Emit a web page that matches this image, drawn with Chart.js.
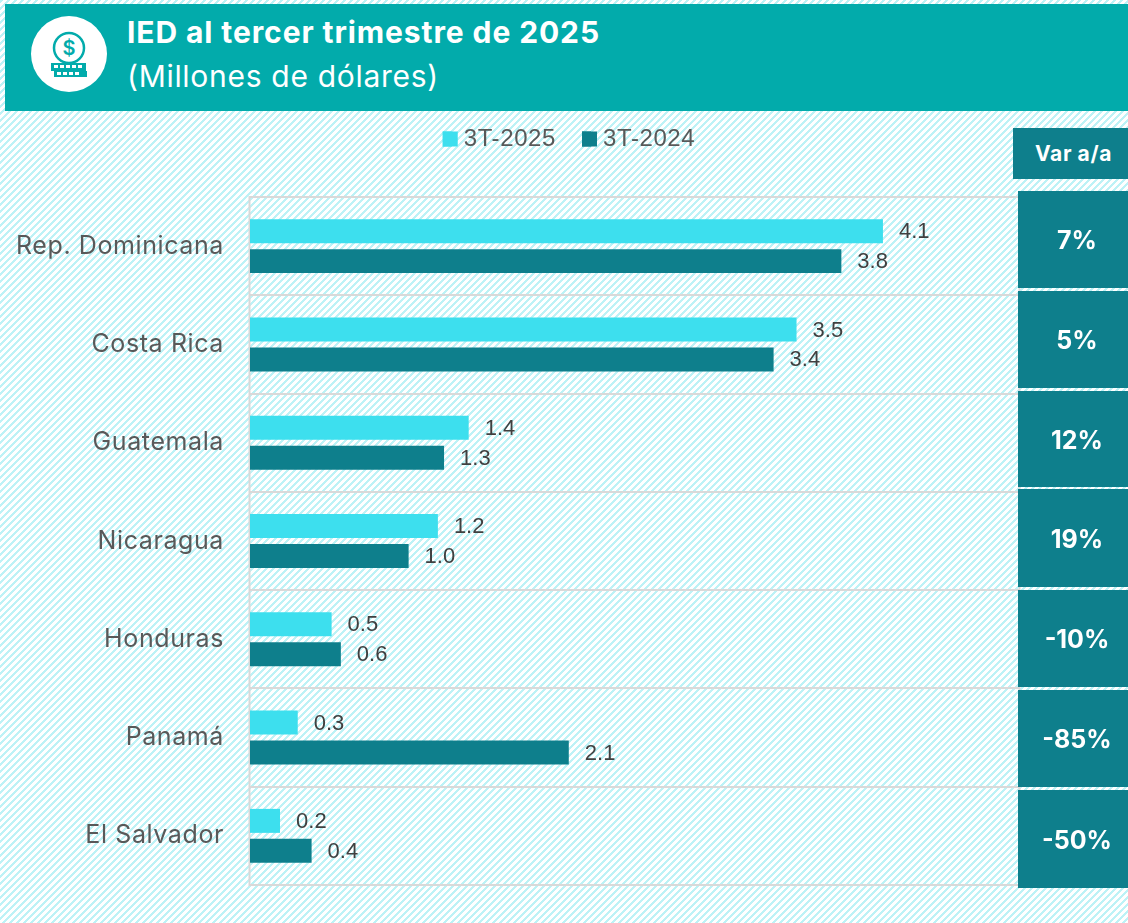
<!DOCTYPE html>
<html><head><meta charset="utf-8">
<style>
html,body{margin:0;padding:0;width:1128px;height:923px;overflow:hidden;font-family:Inter,sans-serif;background:#fff}
#bg{position:absolute;left:0;top:0;width:1128px;height:923px;background:repeating-linear-gradient(135deg,#bdf2f6 0,#bdf2f6 2.15px,#fff 2.15px,#fff 4.95px)}
#hdr{position:absolute;left:5px;top:4px;width:1123px;height:107px;background:#02abab}
#t1{position:absolute;left:127px;top:10px;color:#fff;font-weight:700;font-size:30px;line-height:44px;white-space:nowrap;letter-spacing:.9px}
#t2{position:absolute;left:127px;top:54px;color:#fff;font-size:30px;line-height:44px;white-space:nowrap;letter-spacing:.7px}
#icon{position:absolute;left:31px;top:16px}
canvas{position:absolute;left:0;top:0}
.h{position:absolute;left:1013px;top:128px;width:115px;height:51px;background:#0e7f8c;color:#fff;font-weight:700;font-size:21px;line-height:51px;text-align:center;letter-spacing:.6px;text-indent:6px}
.c{position:absolute;left:1018px;width:110px;background:#0e7f8c;color:#fff;font-weight:700;font-size:25px;text-align:center;text-indent:8px}
</style></head><body>
<div id="bg"></div>
<div id="hdr"></div>
<svg id="icon" width="76" height="76" viewBox="0 0 76 76">
<circle cx="38" cy="38" r="38" fill="#fff"/>
<circle cx="38" cy="32" r="15" fill="none" stroke="#02abab" stroke-width="2.5"/>
<text x="38" y="39" text-anchor="middle" font-family="Inter" font-weight="600" font-size="20" fill="#02abab">$</text>
<rect x="20" y="47" width="35" height="8" fill="#02abab"/>
<rect x="23" y="55" width="33" height="6" fill="#02abab"/>
<g fill="#fff"><rect x="23" y="49" width="4" height="3"/><rect x="29" y="49" width="4" height="3"/><rect x="35" y="49" width="4" height="3"/><rect x="41" y="49" width="4" height="3"/><rect x="47" y="49" width="4" height="3"/><rect x="26" y="56" width="4" height="3"/><rect x="32" y="56" width="4" height="3"/><rect x="38" y="56" width="4" height="3"/><rect x="44" y="56" width="4" height="3"/></g>
</svg>
<div id="t1">IED al tercer trimestre de 2025</div>
<div id="t2">(Millones de dólares)</div>
<canvas id="c" width="1128" height="923"></canvas>
<div class="h">Var a/a</div>
<div id="cells"></div>
<script src="https://cdn.jsdelivr.net/npm/chart.js@4"></script>
<script>
const categories=["Rep. Dominicana","Costa Rica","Guatemala","Nicaragua","Honduras","Panamá","El Salvador"];
const s2025=[4.11,3.549,1.42,1.22,0.53,0.31,0.195];
const s2024=[3.84,3.40,1.26,1.03,0.59,2.07,0.40];
const variation=["7%","5%","12%","19%","-10%","-85%","-50%"];
const cellTops=[191,291,391,489,590,690,790];
const cellBottoms=[288,388,487,587,687,787,888];
const cells=document.getElementById('cells');
variation.forEach((v,i)=>{const d=document.createElement('div');d.className='c';d.textContent=v;
 const h=cellBottoms[i]-cellTops[i];d.style.top=cellTops[i]+'px';d.style.height=h+'px';d.style.lineHeight=(h+2)+'px';cells.appendChild(d);});
const labelPlugin={id:'vals',afterDatasetsDraw(ch){const x=ch.ctx;x.save();x.letterSpacing='0px';x.font='22px "Liberation Sans"';x.fillStyle='#404040';x.textBaseline='middle';
 ch.data.datasets.forEach((d,i)=>{ch.getDatasetMeta(i).data.forEach((b,j)=>{x.fillText(d.data[j].toFixed(1),b.x+16,b.y+1);});});x.restore();}};
const framePlugin={id:'frame',beforeDatasetsDraw(ch){const a=ch.chartArea,x=ch.ctx;x.save();x.strokeStyle='#d9d9d9';x.lineWidth=2;x.strokeRect(a.left-0.5,a.top,a.right-a.left,a.bottom-a.top);x.restore();}};
const legendPlugin={id:'legendPos',
 beforeUpdate(ch){ch.ctx.letterSpacing='0.6px';if(ch.legend&&!ch.legend._w){ch.legend._w=1;const f=ch.legend.fit;ch.legend.fit=function(){f.call(this);this.height=96;};}},
 beforeDraw(ch){ch.ctx.letterSpacing='0.6px';},
 afterLayout(ch){ch.legend.left+=59;ch.legend.right+=59;},
 afterDraw(ch){const x=ch.ctx;x.save();ch.legend.legendHitBoxes.forEach((h,i)=>{x.fillStyle=ch.data.datasets[i].backgroundColor;x.fillRect(h.left,h.top+h.height/2-7.5,15,15);});x.restore();}};
new Chart(document.getElementById('c'),{type:'bar',
 data:{labels:categories,datasets:[
  {label:'3T-2025',data:s2025,backgroundColor:'#3ddfee',categoryPercentage:0.61,barPercentage:0.8},
  {label:'3T-2024',data:s2024,backgroundColor:'#0e7f8c',categoryPercentage:0.61,barPercentage:0.8}]},
 plugins:[legendPlugin,labelPlugin,framePlugin],
 options:{indexAxis:'y',responsive:false,animation:false,
  layout:{padding:{left:0,right:108,top:101,bottom:38}},
  plugins:{legend:{display:true,position:'top',align:'center',labels:{color:'#595959',font:{family:'Liberation Sans',size:24},boxWidth:9,boxHeight:15,padding:26}},tooltip:{enabled:false}},
  scales:{
   x:{min:0,max:5,display:false,grid:{display:false}},
   y:{afterFit(s){s.width=250;s.paddingTop=0;s.paddingBottom=0;},grid:{display:true,color:'#d9d9d9',lineWidth:2,drawTicks:false,offset:true},border:{display:false},
      ticks:{color:'#595959',font:{family:'Inter',size:25},padding:26,autoSkip:false}}
  }}});
</script>
</body></html>
